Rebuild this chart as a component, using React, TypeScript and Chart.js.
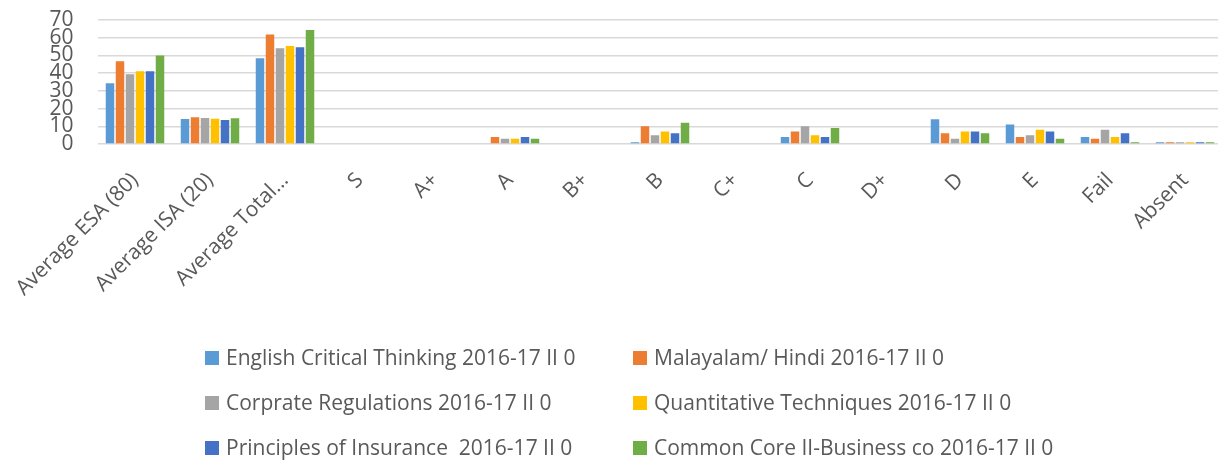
import React, { useEffect, useRef } from "react";
import { Chart, registerables } from "chart.js";

Chart.register(...registerables);

const categories = [
  "Average ESA (80)",
  "Average ISA (20)",
  "Average Total…",
  "S",
  "A+",
  "A",
  "B+",
  "B",
  "C+",
  "C",
  "D+",
  "D",
  "E",
  "Fail",
  "Absent",
];

const seriesNames = [
  "English Critical Thinking 2016-17 II 0",
  "Malayalam/ Hindi 2016-17 II 0",
  "Corprate Regulations 2016-17 II 0",
  "Quantitative Techniques 2016-17 II 0",
  "Principles of Insurance  2016-17 II 0",
  "Common Core II-Business co 2016-17 II 0",
];

const seriesColors = ["#5B9BD5", "#ED7D31", "#A5A5A5", "#FFC000", "#4472C4", "#70AD47"];

const englishCritical = [34.3, 14.1, 48.4, 0, 0, 0, 0, 1, 0, 4, 0, 14, 11, 4, 1];
const malayalamHindi = [46.7, 15.1, 61.8, 0, 0, 4, 0, 10, 0, 7, 0, 6, 4, 3, 1];
const corprateRegulations = [39.4, 14.7, 54.1, 0, 0, 3, 0, 5, 0, 10, 0, 3, 5, 8, 1];
const quantitativeTechniques = [41, 14.3, 55.3, 0, 0, 3, 0, 7, 0, 5, 0, 7, 8, 4, 1];
const principlesInsurance = [41, 13.6, 54.6, 0, 0, 4, 0, 6, 0, 4, 0, 7, 7, 6, 1];
const commonCore = [49.9, 14.5, 64.4, 0, 0, 3, 0, 12, 0, 9, 0, 6, 3, 1, 1];

const seriesValues = [
  englishCritical,
  malayalamHindi,
  corprateRegulations,
  quantitativeTechniques,
  principlesInsurance,
  commonCore,
];

const yTicks = [0, 10, 20, 30, 40, 50, 60, 70];

const FONT = "'Open Sans', 'Liberation Sans', sans-serif";
const TEXT = "#595959";

const legendPlugin = {
  id: "twoColLegend",
  afterDraw(chart: any) {
    const ctx = chart.ctx;
    const colX = [205, 633];
    const rowY = [358, 403, 448];
    ctx.save();
    chart.data.datasets.forEach((ds: any, i: number) => {
      const x = colX[i % 2];
      const y = rowY[Math.floor(i / 2)];
      ctx.fillStyle = ds.backgroundColor;
      ctx.fillRect(x, y - 7, 14, 14);
      ctx.font = `21px ${FONT}`;
      ctx.fillStyle = TEXT;
      ctx.textBaseline = "middle";
      ctx.textAlign = "left";
      ctx.fillText(ds.label, x + 21, y + 1);
    });
    ctx.restore();
  },
};

export default function App() {
  const ref = useRef<HTMLCanvasElement | null>(null);
  useEffect(() => {
    if (!ref.current) return;
    const chart = new Chart(ref.current, {
      type: "bar",
      data: {
        labels: categories,
        datasets: seriesNames.map((name, i) => ({
          label: name,
          data: seriesValues[i],
          backgroundColor: seriesColors[i],
          borderWidth: 0,
          categoryPercentage: 0.8,
          barPercentage: 0.85,
        })),
      },
      options: {
        animation: false,
        responsive: false,
        maintainAspectRatio: false,
        layout: { padding: { top: 20, right: 1.5, left: 0, bottom: 0 } },
        plugins: {
          legend: { display: false },
          tooltip: { enabled: false },
        },
        scales: {
          x: {
            grid: { display: false },
            border: { display: false },
            ticks: {
              color: TEXT,
              font: { family: FONT, size: 21 },
              minRotation: 45,
              maxRotation: 45,
              padding: 16,
              autoSkip: false,
            },
            afterFit: (scale: any) => {
              scale.height = 318;
            },
          },
          y: {
            min: 0,
            max: 70,
            afterBuildTicks: (scale: any) => {
              scale.ticks = yTicks.map((v) => ({ value: v }));
            },
            grid: {
              color: "#D9D9D9",
              lineWidth: 1.4,
              drawTicks: true,
              tickLength: 20,
              tickColor: "rgba(0,0,0,0)",
            },
            border: { display: false },
            ticks: {
              color: TEXT,
              font: { family: FONT, size: 21 },
              padding: 4,
              autoSkip: false,
            },
            afterFit: (scale: any) => {
              scale.width = 97.5;
            },
          },
        },
      },
      plugins: [legendPlugin],
    });
    return () => chart.destroy();
  }, []);
  return (
    <div
      style={{
        position: "fixed",
        left: 0,
        top: 0,
        width: 1218,
        height: 462,
        overflow: "hidden",
        background: "#fff",
      }}
    >
      <canvas ref={ref} width={1224} height={462} style={{ width: 1224, height: 462 }} />
    </div>
  );
}
